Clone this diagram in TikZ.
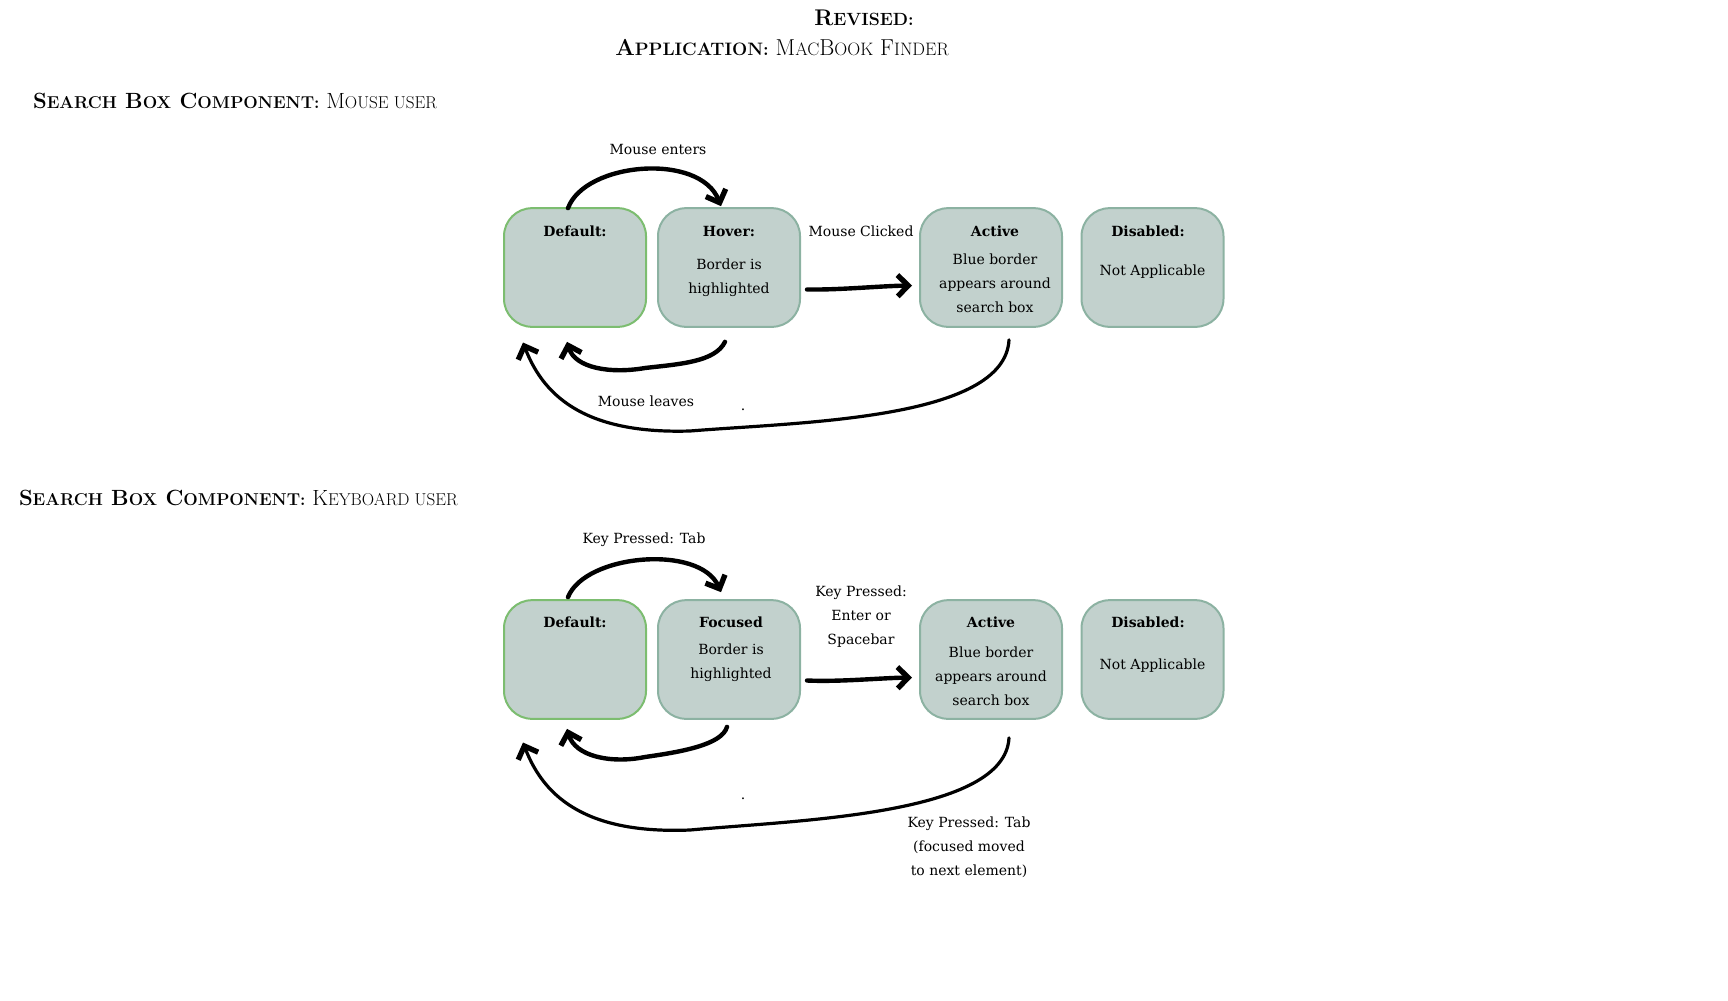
\documentclass[tikz,border=0pt]{standalone}
\usepackage{fontspec}
\setmainfont{DejaVu Serif}
\newfontfamily\headfont{Latin Modern Roman}
\usepackage{graphicx}
\usetikzlibrary{arrows.meta,calc}

\definecolor{boxfill}{HTML}{C2D1CD}
\definecolor{boxline}{HTML}{8CB2A2}
\definecolor{startline}{HTML}{7CBD70}

\newcommand{\fakesc}[2]{#1\scalebox{0.78}{#2}} % small caps by hand

\begin{document}
\begin{tikzpicture}[
	x=0.75pt, y=-0.75pt, % 1 unit = 1 px of the page, y goes down
	every node/.style={inner sep=0pt, outer sep=0pt},
	statebox/.style={draw=boxline, fill=boxfill, line width=1.5pt, rounded corners=21pt,
		minimum width=106.5pt, minimum height=89pt},
	startbox/.style={statebox, draw=startline},
	txt/.style={font=\fontsize{10.5}{18}\selectfont, align=center},
	ttl/.style={font=\fontsize{10.5}{18}\selectfont\bfseries},
	head/.style={font=\headfont\fontsize{16.5}{20}\selectfont, anchor=west},
	trans/.style={line width=3.3pt, line cap=round,
		-{Straight Barb[length=8pt,width=16pt,line width=4pt]}},
	back/.style={trans, line width=2.4pt}
	]
	\useasboundingbox (0,0) rectangle (1728,1000);

	% titles
	\node[font=\headfont\bfseries\fontsize{17}{20}\selectfont] (rev) at (864,18) {\fakesc{R}{EVISED:}};
	\node[font=\headfont\fontsize{17.3}{20}\selectfont] (app) at (782,48)
		{\textbf{\fakesc{A}{PPLICATION:}} \fakesc{M}{AC}\fakesc{B}{OOK} \fakesc{F}{INDER}};
	\node[head] (mhead) at (33,101)
		{\textbf{\fakesc{S}{EARCH} \fakesc{B}{OX} \fakesc{C}{OMPONENT:}} \fakesc{M}{OUSE USER}};
	\node[head] (khead) at (19,498)
		{\textbf{\fakesc{S}{EARCH} \fakesc{B}{OX} \fakesc{C}{OMPONENT:}} \fakesc{K}{EYBOARD USER}};

	% mouse user
	\node[startbox] (def1) at (575,267.5) {};
	\node[statebox] (hov1) at (729,267.5) {};
	\node[statebox] (act1) at (991,267.5) {};
	\node[statebox] (dis1) at (1152.5,267.5) {};

	\node[ttl] (def1t) at (575,231) {Default:};
	\node[ttl] (hov1t) at (729,231) {Hover:};
	\node[txt] (hov1b) at (729,278) {Border is\\highlighted};
	\node[ttl] (act1t) at (995,231) {Active};
	\node[txt] (act1b) at (995,283) {Blue border\\appears around\\search box};
	\node[ttl] (dis1t) at (1148,231) {Disabled:};
	\node[txt] (dis1b) at (1152.5,272) {Not Applicable};

	\node[txt] (enter1) at (658,149) {Mouse enters};
	\node[txt] (click1) at (861,231) {Mouse Clicked};
	\node[txt] (leave1) at (646,401) {Mouse leaves};
	\node[txt] (dot1) at (743,410) {.};

	\draw[trans] ($(def1.north)+(-7,0)$) .. controls (585,162) and (700,152) .. ($(hov1.north)+(-8,-2)$);
	\draw[trans] ($(hov1.east)+(7,22)$) .. controls (840,290) and (880,286) .. ($(act1.west)+(-8,18)$);
	\draw[trans] ($(hov1.south)+(-4,15)$) .. controls (715,362) and (680,364) .. (645,368)
		.. controls (610,374) and (575,368) .. ($(def1.south)+(-8,15)$);
	\draw[back] ($(act1.south)+(18,13)$) .. controls (1005,420) and (800,422) .. (690,431)
		.. controls (590,434) and (545,400) .. ($(def1.west)+(19,75)$);

	% keyboard user
	\node[startbox] (def2) at (575,659.5) {};
	\node[statebox] (foc2) at (729,659.5) {};
	\node[statebox] (act2) at (991,659.5) {};
	\node[statebox] (dis2) at (1152.5,659.5) {};

	\node[ttl] (def2t) at (575,622) {Default:};
	\node[ttl] (foc2t) at (731,622) {Focused};
	\node[txt] (foc2b) at (731,663) {Border is\\highlighted};
	\node[ttl] (act2t) at (991,622) {Active};
	\node[txt] (act2b) at (991,676) {Blue border\\appears around\\search box};
	\node[ttl] (dis2t) at (1148,622) {Disabled:};
	\node[txt] (dis2b) at (1152.5,666) {Not Applicable};

	\node[txt] (tab2) at (644,540) {Key Pressed: Tab};
	\node[txt] (enter2) at (861,617) {Key Pressed:\\Enter or\\Spacebar};
	\node[txt] (dot2) at (743,799) {.};
	\node[txt] (next2) at (969,847) {Key Pressed: Tab\\(focused moved\\to next element)};

	\draw[trans] ($(def2.north)+(-7,-3)$) .. controls (585,554) and (700,544) .. ($(foc2.north)+(-8,-8)$);
	\draw[trans] ($(foc2.east)+(7,21)$) .. controls (840,682) and (880,678) .. ($(act2.west)+(-8,18)$);
	\draw[trans] ($(foc2.south)+(-2,8)$) .. controls (722,745) and (680,752) .. (645,757)
		.. controls (610,764) and (575,756) .. ($(def2.south)+(-8,10)$);
	\draw[back] ($(act2.south)+(18,19)$) .. controls (1005,815) and (800,820) .. (690,830)
		.. controls (590,834) and (545,800) .. ($(def2.west)+(19,83)$);
\end{tikzpicture}
\end{document}
